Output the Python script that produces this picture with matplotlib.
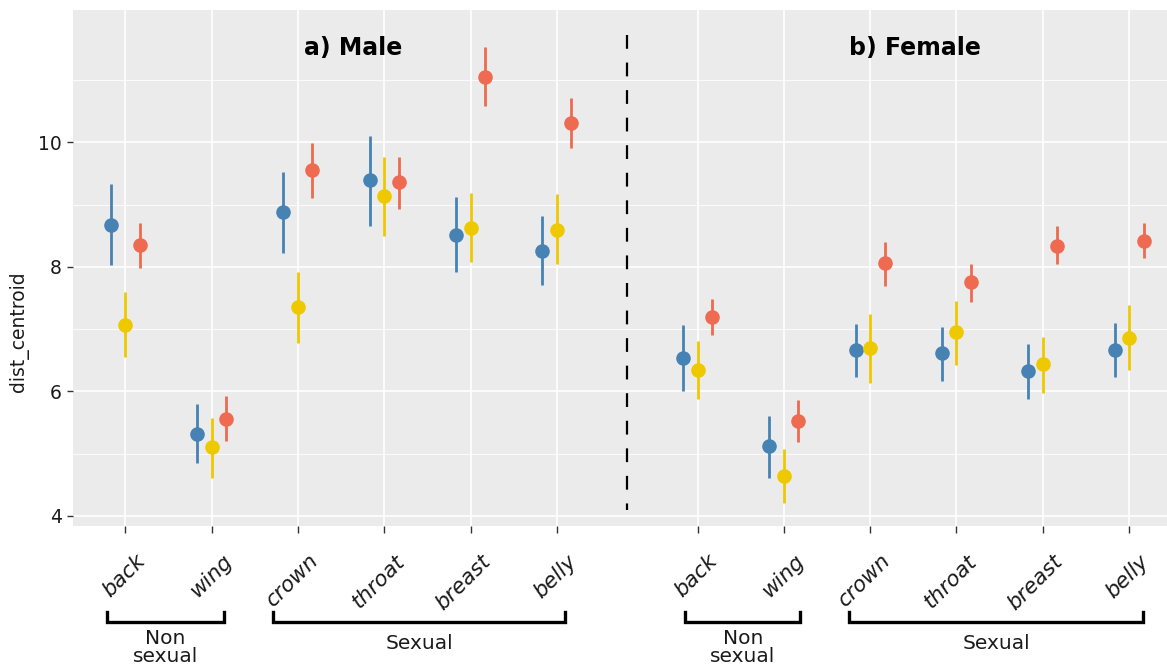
import numpy as np
import matplotlib
matplotlib.use("Agg")
import matplotlib.pyplot as plt
from matplotlib.transforms import blended_transform_factory, ScaledTranslation

# categories
regions = ["back", "wing", "crown", "throat", "breast", "belly"]
male_x = [1, 2, 3, 4, 5, 6]
female_x = [7.63, 8.63, 9.63, 10.63, 11.63, 12.63]

# male values (mean, lower, upper) for the three groups
male_blue = [8.67, 5.32, 8.88, 9.39, 8.51, 8.26]
male_blue_lo = [8.03, 4.84, 8.23, 8.65, 7.92, 7.71]
male_blue_hi = [9.34, 5.79, 9.52, 10.11, 9.13, 8.82]
male_yellow = [7.07, 5.10, 7.35, 9.14, 8.62, 8.60]
male_yellow_lo = [6.55, 4.61, 6.78, 8.50, 8.08, 8.04]
male_yellow_hi = [7.60, 5.57, 7.92, 9.77, 9.19, 9.17]
male_red = [8.35, 5.56, 9.55, 9.36, 11.06, 10.32]
male_red_lo = [7.99, 5.20, 9.10, 8.93, 10.59, 9.91]
male_red_hi = [8.71, 5.92, 9.99, 9.76, 11.54, 10.72]

# female values
female_blue = [6.54, 5.12, 6.66, 6.61, 6.33, 6.67]
female_blue_lo = [6.00, 4.61, 6.23, 6.17, 5.88, 6.23]
female_blue_hi = [7.07, 5.61, 7.09, 7.03, 6.76, 7.10]
female_yellow = [6.34, 4.64, 6.69, 6.95, 6.44, 6.86]
female_yellow_lo = [5.88, 4.20, 6.13, 6.43, 5.97, 6.35]
female_yellow_hi = [6.81, 5.07, 7.24, 7.46, 6.88, 7.38]
female_red = [7.20, 5.53, 8.06, 7.75, 8.34, 8.41]
female_red_lo = [6.91, 5.19, 7.70, 7.44, 8.04, 8.15]
female_red_hi = [7.48, 5.86, 8.40, 8.04, 8.65, 8.70]

colors = {"blue": "#4682B4", "yellow": "#EEC900", "red": "#EE6A50"}
dodge = {"blue": -0.168, "yellow": 0.0, "red": 0.168}

fig = plt.figure(figsize=(11.67, 6.70), dpi=100)
ax = fig.add_axes([73 / 1167, 1 - 526 / 670, 1094 / 1167, 516 / 670])
ax.set_facecolor("#EBEBEB")
for s in ax.spines.values():
    s.set_visible(False)

ax.set_xlim(0.394, 13.07)
ax.set_ylim(3.835, 12.13)

# grid
for y in [4, 6, 8, 10]:
    ax.axhline(y, color="white", lw=1.2, zorder=0)
for y in [5, 7, 9, 11]:
    ax.axhline(y, color="white", lw=0.6, zorder=0)
for x in male_x + female_x:
    ax.axvline(x, color="white", lw=1.2, zorder=0)

series = [
    ("blue", male_blue, male_blue_lo, male_blue_hi, female_blue, female_blue_lo, female_blue_hi),
    ("yellow", male_yellow, male_yellow_lo, male_yellow_hi, female_yellow, female_yellow_lo, female_yellow_hi),
    ("red", male_red, male_red_lo, male_red_hi, female_red, female_red_lo, female_red_hi),
]
for name, m, mlo, mhi, f, flo, fhi in series:
    xs = np.array(male_x + female_x) + dodge[name]
    ys = np.array(m + f)
    lo = np.array(mlo + flo)
    hi = np.array(mhi + fhi)
    ax.vlines(xs, lo, hi, color=colors[name], lw=2.0, zorder=2)
    ax.plot(xs, ys, "o", color=colors[name], ms=10.5, mec="none", zorder=3)

# divider between the two panels
mid = (male_x[-1] + female_x[0]) / 2
ax.plot([mid, mid], [11.73, 4.1], color="black", lw=1.6, ls=(0, (6.2, 6.2)), zorder=2)

ax.text(3.64, 11.52, "a) Male", fontsize=17, fontweight="bold", ha="center", va="center")
ax.text(10.15, 11.52, "b) Female", fontsize=17, fontweight="bold", ha="center", va="center")

# axes ticks
ax.set_yticks([4, 6, 8, 10])
ax.set_yticklabels(["4", "6", "8", "10"])
ax.tick_params(axis="y", length=4, width=1, color="#333333", labelsize=13.5, labelcolor="#1a1a1a", pad=4)
ax.set_xticks(male_x + female_x)
ax.set_xticklabels(regions + regions)
ax.tick_params(axis="x", length=5, width=1, color="#333333", labelsize=15.5, labelcolor="#1a1a1a", pad=13)
off = ScaledTranslation(10 / 100, 0, fig.dpi_scale_trans)
for lab in ax.get_xticklabels():
    lab.set_rotation(45)
    lab.set_ha("right")
    lab.set_va("top")
    lab.set_rotation_mode("anchor")
    lab.set_fontstyle("italic")
    lab.set_transform(lab.get_transform() + off)

ax.set_ylabel("dist_centroid", fontsize=13.5, color="#1a1a1a")
ax.yaxis.set_label_coords(-0.040, 0.376)

# group brackets under the axis
trans = blended_transform_factory(ax.transData, fig.transFigure)
y_line = 1 - 622 / 670
y_tip = 1 - 612 / 670
brackets = [
    (0.79, 2.14, "Non\nsexual", 629),
    (2.71, 6.10, "Sexual", 634),
    (7.49, 8.82, "Non\nsexual", 629),
    (9.39, 12.79, "Sexual", 634),
]
for x0, x1, label, ytop in brackets:
    ax.plot([x0, x0, x1, x1], [y_tip, y_line, y_line, y_tip], color="black", lw=2.4,
            transform=trans, clip_on=False, solid_joinstyle="miter")
    ax.text((x0 + x1) / 2, 1 - ytop / 670, label, transform=trans, ha="center", va="top",
            fontsize=14.5, linespacing=0.9, color="#1a1a1a")

fig.savefig("out.png", dpi=100)
